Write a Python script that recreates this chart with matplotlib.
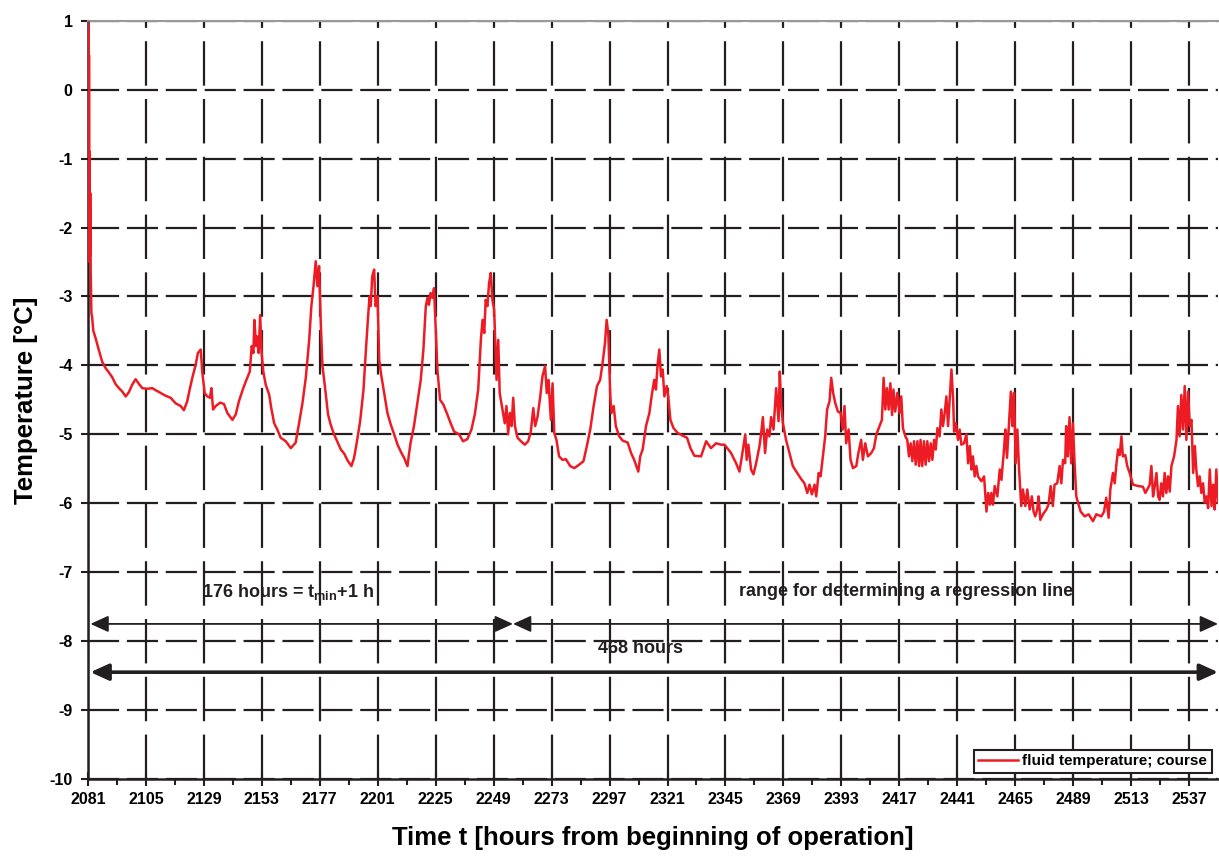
import matplotlib.pyplot as plt
from matplotlib.ticker import FixedLocator

plt.rcParams['font.family'] = ['Liberation Sans', 'DejaVu Sans']
plt.rcParams['font.weight'] = 'bold'
plt.rcParams['axes.unicode_minus'] = False
plt.rcParams['mathtext.fontset'] = 'custom'
plt.rcParams['mathtext.rm'] = 'Liberation Sans:bold'
plt.rcParams['mathtext.default'] = 'rm'

# fluid temperature course: (hour of operation, temperature in degC)
readings = [
    (2081.0, 1.0), (2081.1, -1.6), (2081.2, 0.9), (2081.3, -1.5), (2081.4, 0.5), (2081.5, -1.0),
    (2081.6, -2.5), (2081.7, -0.9), (2081.8, -2.4), (2081.9, -1.5), (2082.1, -2.6), (2082.4, -3.24),
    (2082.7, -3.3), (2083.2, -3.5), (2084.1, -3.6), (2085.5, -3.78), (2086.9, -3.95), (2088.3, -4.04),
    (2089.6, -4.10), (2091.0, -4.17), (2092.4, -4.27), (2093.8, -4.33), (2095.2, -4.38), (2096.6, -4.45),
    (2097.9, -4.39), (2099.3, -4.28), (2100.7, -4.20), (2102.1, -4.27), (2103.5, -4.33), (2105.5, -4.34),
    (2107.6, -4.33), (2109.0, -4.36), (2111.1, -4.40), (2113.1, -4.44), (2115.2, -4.47), (2117.3, -4.55),
    (2119.4, -4.59), (2120.7, -4.65), (2122.1, -4.52), (2123.1, -4.35), (2124.2, -4.18), (2125.6, -3.99),
    (2126.5, -3.82), (2127.7, -3.77), (2128.3, -4.09), (2129.3, -4.40), (2130.4, -4.45), (2131.5, -4.47),
    (2132.1, -4.33), (2132.8, -4.64), (2133.9, -4.59), (2135.7, -4.54), (2137.3, -4.56), (2138.7, -4.69),
    (2140.8, -4.79), (2142.2, -4.71), (2143.5, -4.52), (2145.2, -4.34), (2146.6, -4.21), (2148.0, -4.09),
    (2148.8, -3.72), (2149.5, -3.82), (2149.9, -3.34), (2150.6, -3.72), (2151.1, -3.58), (2151.7, -3.82),
    (2152.3, -3.27), (2152.9, -3.82), (2153.6, -4.09), (2154.6, -4.28), (2156.0, -4.42), (2156.9, -4.62),
    (2158.1, -4.84), (2159.4, -4.93), (2160.8, -5.05), (2162.9, -5.10), (2165.0, -5.20), (2167.0, -5.12),
    (2168.4, -4.84), (2169.8, -4.55), (2171.2, -4.18), (2172.6, -3.63), (2173.5, -3.14), (2174.4, -2.85),
    (2175.3, -2.49), (2176.0, -2.85), (2176.7, -2.56), (2177.4, -3.39), (2178.1, -4.01), (2179.1, -4.30),
    (2180.4, -4.71), (2181.5, -4.86), (2182.9, -5.00), (2184.3, -5.11), (2185.7, -5.22), (2187.1, -5.28),
    (2188.5, -5.38), (2190.1, -5.46), (2191.2, -5.34), (2192.3, -5.12), (2193.7, -4.81), (2195.1, -4.35),
    (2196.1, -3.77), (2197.0, -3.29), (2197.6, -3.00), (2198.1, -3.14), (2198.7, -2.71), (2199.5, -2.61),
    (2200.1, -3.14), (2200.9, -3.00), (2201.6, -3.92), (2202.3, -4.11), (2203.9, -4.45), (2205.0, -4.69),
    (2206.4, -4.86), (2207.8, -5.00), (2209.2, -5.15), (2210.8, -5.27),
    (2211.9, -5.34), (2213.3, -5.46), (2214.0, -5.27), (2214.6, -5.12), (2216.0, -4.88), (2217.4, -4.55),
    (2218.8, -4.21), (2219.9, -3.77), (2220.9, -3.14), (2221.6, -3.02), (2222.2, -3.12), (2222.9, -2.95),
    (2223.6, -3.02), (2224.3, -2.88), (2225.0, -3.48), (2225.7, -4.06), (2226.8, -4.50), (2228.2, -4.57),
    (2229.8, -4.71), (2231.2, -4.84), (2232.6, -4.96), (2234.7, -5.00), (2236.3, -5.10), (2238.1, -5.07),
    (2239.8, -4.93), (2241.2, -4.71), (2242.6, -4.35), (2243.7, -3.63), (2244.4, -3.34), (2245.1, -3.53),
    (2245.7, -3.05), (2246.4, -3.14), (2247.1, -2.81), (2247.8, -2.66), (2248.5, -3.05), (2249.2, -3.19),
    (2250.2, -4.21), (2250.9, -3.63), (2251.5, -4.40), (2252.9, -4.69), (2253.6, -4.84), (2254.3, -4.59),
    (2255.0, -5.00), (2255.7, -4.69), (2256.4, -4.88), (2257.1, -4.47), (2257.8, -4.88), (2258.9, -5.05),
    (2260.3, -5.10), (2261.9, -5.15), (2263.3, -5.10), (2264.4, -4.96), (2265.4, -4.62), (2266.2, -4.88),
    (2267.2, -4.74), (2268.3, -4.45), (2269.2, -4.16), (2270.3, -4.01), (2271.0, -4.40), (2271.7, -4.21),
    (2272.7, -4.79), (2273.4, -4.26), (2274.1, -4.98), (2275.0, -5.08), (2276.1, -5.32), (2277.5, -5.37),
    (2278.9, -5.36), (2280.7, -5.46), (2282.4, -5.49), (2284.4, -5.44), (2286.2, -5.39), (2287.6, -5.17),
    (2289.0, -4.93), (2290.4, -4.59), (2291.8, -4.30), (2293.1, -4.21), (2294.1, -3.97), (2295.1, -3.68),
    (2295.8, -3.34), (2296.5, -3.55), (2297.3, -4.45), (2297.8, -4.69), (2298.7, -4.59), (2299.6, -4.88),
    (2301.0, -5.03), (2302.4, -5.09), (2304.5, -5.12), (2305.9, -5.27), (2307.2, -5.37), (2308.9, -5.54),
    (2309.7, -5.32), (2310.7, -5.22), (2312.1, -4.88), (2313.5, -4.69), (2314.4, -4.45), (2315.5, -4.21),
    (2316.2, -4.35), (2316.9, -3.99), (2317.6, -3.77), (2318.3, -4.16), (2319.0, -4.06), (2319.7, -4.45),
    (2320.7, -4.30), (2321.3, -4.45), (2322.2, -4.79), (2323.5, -4.91), (2325.2, -4.98), (2327.3, -5.02),
    (2329.1, -5.05), (2330.5, -5.20), (2332.1, -5.31), (2334.9, -5.32), (2337.0, -5.10), (2339.0, -5.20),
    (2341.1, -5.13),
    (2343.2, -5.15), (2344.6, -5.15), (2347.3, -5.27), (2349.4, -5.42), (2350.8, -5.54), (2351.8, -5.32),
    (2353.2, -5.00), (2353.8, -5.37), (2354.5, -5.15), (2355.6, -5.51), (2356.6, -5.58), (2357.7, -5.42),
    (2359.1, -5.17), (2359.8, -4.98), (2360.5, -4.75), (2361.4, -5.27), (2362.3, -4.93), (2363.2, -5.03),
    (2363.9, -4.75), (2364.9, -4.93), (2366.0, -4.33), (2367.0, -4.81), (2367.5, -4.09), (2368.1, -4.59),
    (2368.8, -4.84), (2370.1, -5.08), (2371.5, -5.27), (2372.9, -5.46), (2374.7, -5.56), (2376.4, -5.65),
    (2377.7, -5.71), (2378.9, -5.85), (2379.8, -5.73), (2380.8, -5.87), (2381.9, -5.73), (2382.6, -5.90),
    (2383.6, -5.56), (2384.4, -5.61), (2385.4, -5.30), (2386.3, -5.03), (2387.1, -4.64), (2388.1, -4.52),
    (2388.8, -4.18), (2389.6, -4.40), (2390.5, -4.55), (2391.6, -4.67), (2392.7, -4.69), (2393.6, -4.93),
    (2394.3, -4.59), (2395.0, -5.13), (2396.0, -4.93), (2396.8, -5.37), (2397.8, -5.49), (2399.2, -5.46),
    (2399.9, -5.30), (2401.2, -5.08), (2401.9, -5.37), (2402.9, -5.13), (2404.0, -5.32), (2405.4, -5.27),
    (2406.5, -5.20), (2407.5, -5.00), (2408.8, -4.88), (2409.8, -4.79), (2410.5, -4.18), (2411.2, -4.64),
    (2411.9, -4.33), (2412.6, -4.64), (2413.3, -4.26), (2414.0, -4.72), (2414.6, -4.35), (2415.3, -4.67),
    (2416.2, -4.40), (2417.1, -4.69), (2417.8, -4.45), (2418.5, -4.91), (2419.5, -5.03), (2420.3, -5.08),
    (2421.0, -5.32), (2421.7, -5.13), (2422.4, -5.39), (2423.1, -5.10), (2423.8, -5.44), (2424.5, -5.10),
    (2425.2, -5.46), (2425.8, -5.08), (2426.5, -5.46), (2427.2, -5.10), (2427.9, -5.44), (2428.6, -5.10),
    (2429.3, -5.39), (2430.0, -5.13), (2430.7, -5.37), (2431.4, -5.08), (2432.1, -5.22), (2432.8, -4.91),
    (2433.7, -5.03), (2434.4, -4.64), (2435.1, -4.88), (2435.8, -4.69), (2436.5, -4.45), (2437.2, -4.88),
    (2437.9, -4.47), (2438.6, -4.06), (2439.3, -4.50), (2439.7, -4.96), (2440.4, -4.84), (2441.3, -5.08),
    (2442.0, -4.93), (2442.7, -5.15), (2443.8, -5.13), (2444.8, -5.00), (2445.5, -5.42), (2446.2, -5.17),
    (2446.9, -5.51), (2447.5, -5.32), (2448.2, -5.61), (2448.9, -5.46), (2449.6, -5.61), (2451.0, -5.68),
    (2452.1, -5.61), (2453.1, -6.12), (2453.8, -5.85), (2454.5, -6.02), (2455.1, -5.85), (2455.8, -6.02),
    (2456.5, -5.75), (2457.6, -5.90), (2458.6, -5.51), (2459.3, -5.66), (2460.4, -5.20), (2460.9, -4.93),
    (2461.6, -5.34), (2462.3, -4.93), (2463.2, -4.38), (2463.8, -4.88), (2464.5, -4.40), (2465.2, -5.42),
    (2465.9, -4.93), (2466.6, -5.51),
    (2467.5, -6.04), (2468.2, -5.80), (2469.2, -6.04), (2470.0, -5.80), (2471.0, -6.09), (2471.9, -5.90),
    (2472.6, -6.12), (2473.3, -6.19), (2474.1, -6.09), (2474.7, -5.90), (2475.4, -6.24), (2476.5, -6.16),
    (2477.9, -6.09), (2478.8, -6.02), (2479.7, -5.75), (2480.6, -6.04), (2481.3, -5.73), (2482.4, -5.71),
    (2483.4, -5.46), (2484.1, -5.71), (2484.8, -5.37), (2485.7, -5.42), (2486.1, -4.88), (2486.8, -5.32),
    (2487.5, -4.75), (2488.2, -5.42), (2488.9, -4.84), (2489.6, -5.42), (2490.3, -5.90), (2491.0, -5.99),
    (2492.1, -6.12), (2493.8, -6.19), (2495.4, -6.16), (2497.2, -6.26), (2498.6, -6.16), (2500.7, -6.19),
    (2501.8, -6.12), (2502.7, -5.92), (2503.7, -6.21), (2504.4, -5.80), (2505.5, -5.56), (2506.2, -5.71),
    (2506.9, -5.44), (2507.6, -5.22), (2508.3, -5.30), (2509.0, -5.03), (2509.6, -5.32), (2510.6, -5.30),
    (2511.4, -5.46), (2512.4, -5.56), (2513.8, -5.73), (2515.9, -5.75), (2517.9, -5.76), (2518.9, -5.85),
    (2520.0, -5.78), (2520.7, -5.73), (2521.4, -5.46), (2522.1, -5.90), (2522.8, -5.75), (2523.5, -5.56),
    (2524.2, -5.90), (2524.8, -5.95), (2525.5, -5.71), (2526.2, -5.90), (2526.9, -5.56), (2527.6, -5.85),
    (2528.3, -5.61), (2529.0, -5.83), (2529.7, -5.46), (2530.8, -5.32), (2531.8, -5.08), (2532.4, -4.59),
    (2533.1, -5.03), (2533.8, -4.43), (2534.5, -4.93), (2535.2, -4.30), (2535.9, -5.08), (2536.6, -4.38),
    (2537.3, -4.88), (2538.0, -4.79), (2538.7, -5.56), (2539.4, -5.17), (2540.0, -5.51), (2540.7, -5.75),
    (2541.4, -5.61), (2542.1, -5.85), (2542.8, -5.71), (2543.5, -5.99), (2544.2, -5.90), (2544.9, -6.07),
    (2545.6, -5.51), (2546.3, -6.04), (2547.0, -5.73), (2547.6, -6.09), (2548.3, -5.51), (2549.0, -5.99),
]
hours = [h for h, _ in readings]
temp = [t for _, t in readings]

x_ticks = list(range(2081, 2538, 24))
x_minor = list(range(2093, 2549, 24))
y_ticks = list(range(-10, 2))

# hour marks for the range arrows
t_start = 2081
t_split = 2257
t_end = 2549

ink = '#231F20'

fig = plt.figure(figsize=(12.19, 8.59), dpi=100)
ax = fig.add_axes([0.0722, 0.0931, 0.927, 0.8828])

ax.plot(hours, temp, color='#ED1C24', lw=1.8, label='fluid temperature; course', zorder=3)

ax.set_xlim(t_start, t_end)
ax.set_ylim(-10, 1)
ax.xaxis.set_major_locator(FixedLocator(x_ticks))
ax.xaxis.set_minor_locator(FixedLocator(x_minor))
ax.yaxis.set_major_locator(FixedLocator(y_ticks))

# dashed grid
ax.xaxis.grid(True, color=ink, lw=1.6, linestyle=(0, (20, 6)))
ax.yaxis.grid(True, color=ink, lw=1.6, linestyle=(0, (14, 3.5)))
ax.set_axisbelow(True)

ax.tick_params(axis='x', which='major', direction='inout', length=10, width=1.5,
               color=ink, pad=4, labelsize=11.5)
ax.tick_params(axis='x', which='minor', direction='out', length=4, width=1.5, color=ink)
ax.tick_params(axis='y', direction='out', length=5, width=1.5, color=ink, pad=6, labelsize=11.5)
for lbl in ax.get_xticklabels() + ax.get_yticklabels():
    lbl.set_fontweight('bold')

for side in ('left', 'bottom'):
    ax.spines[side].set_color(ink)
    ax.spines[side].set_linewidth(1.8)
ax.spines['top'].set_color('#999999')
ax.spines['top'].set_linewidth(1.5)
ax.spines['right'].set_visible(False)

ax.set_xlabel('Time t [hours from beginning of operation]', fontsize=18.5,
              fontweight='bold', labelpad=14)
ax.set_ylabel('Temperature [°C]', fontsize=18.5, fontweight='bold', labelpad=8)

# range arrows
head = '<|-|>,head_length=0.55,head_width=0.25'
ax.annotate('', xy=(t_split, -7.75), xytext=(t_start + 1, -7.75),
            arrowprops=dict(arrowstyle=head, color=ink, lw=1.3, shrinkA=0, shrinkB=0,
                            mutation_scale=20))
ax.annotate('', xy=(t_end, -7.75), xytext=(t_split, -7.75),
            arrowprops=dict(arrowstyle=head, color=ink, lw=1.3, shrinkA=0, shrinkB=0,
                            mutation_scale=20))
ax.annotate('', xy=(t_end, -8.45), xytext=(t_start + 1, -8.45),
            arrowprops=dict(arrowstyle=head, color=ink, lw=2.6, shrinkA=0, shrinkB=0,
                            mutation_scale=20))

ax.text(2164, -7.28, '176 hours = t$_{min}$+1 h', ha='center', va='center',
        fontsize=13, fontweight='bold', color=ink)
ax.text(2420, -7.28, 'range for determining a regression line', ha='center', va='center',
        fontsize=13, fontweight='bold', color=ink)
ax.text(2310, -8.1, '468 hours', ha='center', va='center',
        fontsize=13, fontweight='bold', color=ink)

leg = ax.legend(loc='lower right', fontsize=11, fancybox=False, framealpha=1,
                edgecolor=ink, handlelength=2.6, handletextpad=0.3,
                borderpad=0.3, borderaxespad=0.4)
leg.get_frame().set_linewidth(1.5)
for txt in leg.get_texts():
    txt.set_fontweight('bold')

fig.savefig('out.png', dpi=100)
